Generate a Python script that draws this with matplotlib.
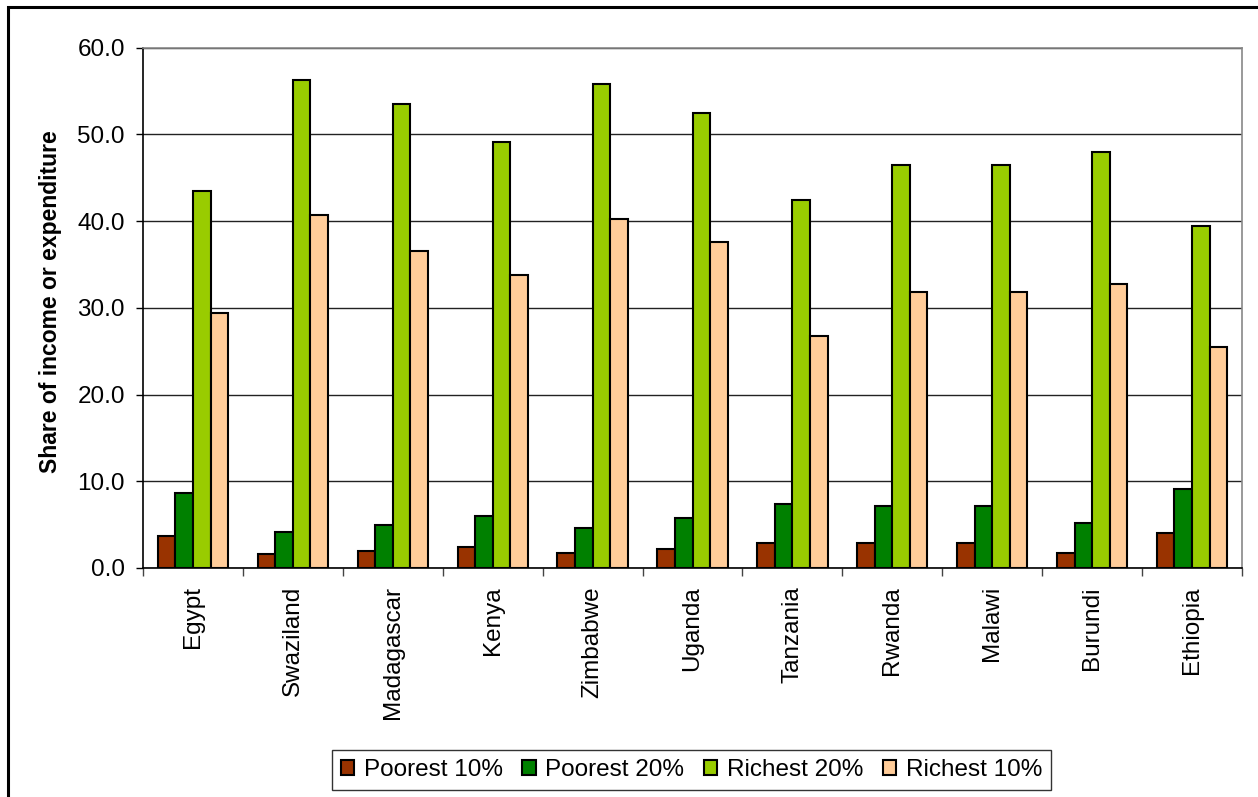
import numpy as np
import matplotlib.pyplot as plt
from matplotlib.patches import Rectangle

countries = ["Egypt", "Swaziland", "Madagascar", "Kenya", "Zimbabwe", "Uganda",
             "Tanzania", "Rwanda", "Malawi", "Burundi", "Ethiopia"]
poorest10 = [3.7, 1.6, 2.0, 2.4, 1.7, 2.2, 2.9, 2.9, 2.9, 1.7, 4.0]
poorest20 = [8.7, 4.2, 4.9, 6.0, 4.6, 5.8, 7.4, 7.1, 7.1, 5.2, 9.1]
richest20 = [43.5, 56.2, 53.5, 49.1, 55.8, 52.4, 42.4, 46.4, 46.4, 48.0, 39.4]
richest10 = [29.4, 40.7, 36.5, 33.8, 40.2, 37.6, 26.8, 31.8, 31.8, 32.7, 25.5]

series = [("Poorest 10%", poorest10, "#993300"),
          ("Poorest 20%", poorest20, "#008000"),
          ("Richest 20%", richest20, "#99CC00"),
          ("Richest 10%", richest10, "#FFCC99")]

plt.rcParams['font.family'] = ['Liberation Sans', 'DejaVu Sans']

W, H = 1258, 797
fig = plt.figure(figsize=(W / 100, H / 100), dpi=100)
ax = fig.add_axes([143 / W, 1 - 568 / H, (1242 - 143) / W, (568 - 47.5) / H])

x = np.arange(len(countries))
bw = 0.176
for k, (name, vals, col) in enumerate(series):
    ax.bar(x + (k - 1.5) * bw, vals, bw, color=col, edgecolor="black",
           linewidth=1.5, label=name, zorder=3)

ax.set_xlim(-0.5, len(countries) - 0.5)
ax.set_ylim(0, 60)
ax.set_yticks(np.arange(0, 61, 10))
ax.set_yticklabels(["%.1f" % v for v in np.arange(0, 61, 10)], fontsize=17.5)
ax.yaxis.grid(True, color="#222222", linewidth=1.0, zorder=0)

# category labels between boundary ticks
ax.set_xticks(x)
ax.set_xticklabels(countries, rotation=90, fontsize=17.5, va="top")
ax.set_xticks(np.arange(-0.5, len(countries)), minor=True)
ax.tick_params(axis="x", which="major", length=0, pad=13)
ax.tick_params(axis="x", which="minor", length=6, width=1, color="#444444", direction="out")
ax.tick_params(axis="y", length=5, width=1, direction="out", pad=8)

ax.spines["left"].set_color("black")
ax.spines["bottom"].set_color("black")
ax.spines["top"].set_color("#888888")
ax.spines["right"].set_color("#888888")
for s in ax.spines.values():
    s.set_linewidth(1.2)

fig.text(51 / W, 1 - 302 / H, "Share of income or expenditure", rotation=90,
         ha="center", va="center", fontsize=16.5, fontweight="bold")

leg = fig.legend(loc="center", bbox_to_anchor=(691.5 / W, 1 - 770 / H), ncol=4,
                 fontsize=17.5, frameon=True, fancybox=False, edgecolor="black",
                 handlelength=0.55, handleheight=0.55, handletextpad=0.4,
                 columnspacing=0.8, borderpad=0.35, borderaxespad=0)
leg.get_frame().set_linewidth(1.0)

# outer chart border (left and top edges visible)
fig.add_artist(Rectangle((8 / W, -0.1), 1.1, (H - 7) / H + 0.1, fill=False,
                         edgecolor="black", linewidth=2.2,
                         transform=fig.transFigure))

fig.savefig("out.png", dpi=100)
